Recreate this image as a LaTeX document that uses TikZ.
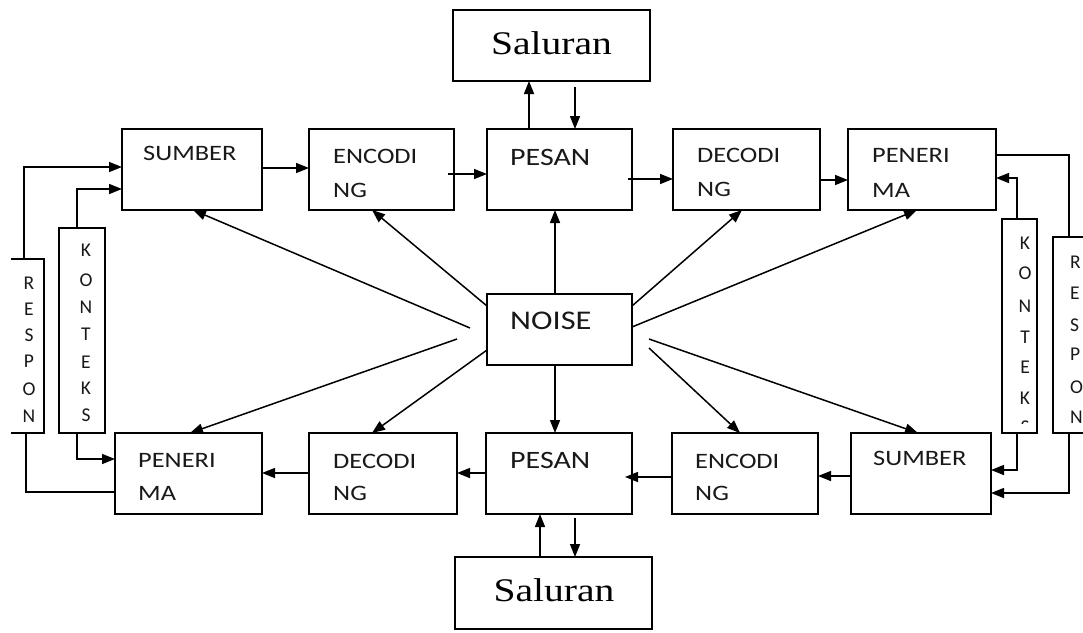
\documentclass[tikz,border=0pt]{standalone}
\usepackage{fontspec}
\usepackage{graphicx}
\setmainfont{Liberation Serif}
\newfontfamily\carl{Carlito}
\usetikzlibrary{arrows.meta}
\newcommand\hs[1]{\scalebox{1.2}[1]{#1}}
\begin{document}
\begin{tikzpicture}[x=1pt,y=-1pt,
 bx/.style={draw, line width=1.6pt, inner sep=0, outer sep=0},
 lbl/.style={anchor=west, inner sep=0, text=black!90, font=\carl\fontsize{22}{22}\selectfont},
 big/.style={lbl, font=\carl\fontsize{25}{25}\selectfont},
 vl/.style={inner sep=0, text=black!90, font=\carl\fontsize{19.5}{19}\selectfont},
 sal/.style={inner sep=0, font=\fontsize{33}{33}\selectfont},
 arr/.style={line width=1.5pt, -{Triangle[length=13pt,width=10pt]}},
 ln/.style={line width=1.5pt}]
\clip (0,0) rectangle (1083,632);
\fill[white] (0,0) rectangle (1083,632);

% boxes top row
\node[bx, minimum width=140pt, minimum height=81pt] (sumT) at (192,169.5) {};
\node[bx, minimum width=145pt, minimum height=81pt] (encT) at (381.5,169.5) {};
\node[bx, minimum width=145pt, minimum height=81pt] (pesT) at (559.5,169.5) {};
\node[bx, minimum width=147pt, minimum height=81pt] (decT) at (746.5,169.5) {};
\node[bx, minimum width=148pt, minimum height=81pt] (penT) at (922,169.5) {};
% boxes bottom row
\node[bx, minimum width=147pt, minimum height=81pt] (penB) at (188.5,473.5) {};
\node[bx, minimum width=148pt, minimum height=81pt] (decB) at (383,473.5) {};
\node[bx, minimum width=146pt, minimum height=81pt] (pesB) at (559,473.5) {};
\node[bx, minimum width=146pt, minimum height=81pt] (encB) at (745,473.5) {};
\node[bx, minimum width=140pt, minimum height=81pt] (sumB) at (921,473.5) {};
% noise, saluran
\node[bx, minimum width=145pt, minimum height=71pt] (noise) at (559.5,329.5) {};
\node[bx, minimum width=197pt, minimum height=71pt] (salT) at (551.5,45.5) {};
\node[bx, minimum width=197pt, minimum height=72pt] (salB) at (553.5,593) {};
% side boxes
\node[inner sep=0, outer sep=0, minimum width=33pt, minimum height=174pt] (respL) at (27.5,346) {};
\draw[line width=1.6pt] (respL.north west) -- (respL.north east) -- (respL.south east) -- (respL.south west);
\node[bx, minimum width=46pt, minimum height=205pt] (konL) at (82,330.5) {};
\node[bx, minimum width=35pt, minimum height=214pt] (konR) at (1019.5,326) {};
\node[bx, minimum width=47pt, minimum height=196pt] (respR) at (1076.5,335) {};

% texts
\node[sal] (tsalT) at (551.5,43) {\hs{Saluran}};
\node[sal] (tsalB) at (554,590) {\hs{Saluran}};
\node[lbl] (t1) at (143,153) {\hs{SUMBER}};
\node[lbl] (t2) at (333,156) {\hs{ENCODI}};
\node[lbl] (t3) at (333,190) {\hs{NG}};
\node[big] (t4) at (510,157) {\hs{PESAN}};
\node[lbl] (t5) at (697,155) {\hs{DECODI}};
\node[lbl] (t6) at (697,189) {\hs{NG}};
\node[lbl] (t7) at (872,155) {\hs{PENERI}};
\node[lbl] (t8) at (872,190) {\hs{MA}};
\node[big, font=\carl\fontsize{27}{27}\selectfont] (t9) at (510,321) {\hs{NOISE}};
\node[lbl] (t10) at (138,460) {\hs{PENERI}};
\node[lbl] (t11) at (138,493) {\hs{MA}};
\node[lbl] (t12) at (333,461) {\hs{DECODI}};
\node[lbl] (t13) at (333,493) {\hs{NG}};
\node[big] (t14) at (510,460) {\hs{PESAN}};
\node[lbl] (t15) at (695,461) {\hs{ENCODI}};
\node[lbl] (t16) at (695,493) {\hs{NG}};
\node[lbl] (t17) at (873,458) {\hs{SUMBER}};
% vertical letters
\foreach \l/\y [count=\i] in {R/283,E/309,S/335,P/361,O/389,N/416}
  \node[vl] (rl\i) at (29,\y) {\l};
\foreach \l/\y [count=\i] in {K/250,O/280,N/307,T/334,E/362,K/388,S/415}
  \node[vl] (kl\i) at (86,\y) {\l};
\foreach \l/\y [count=\i] in {K/243,O/273,N/306,T/337,E/367,K/398}
  \node[vl] (kr\i) at (1025,\y) {\l};
\begin{scope}
  \clip (1004,417) rectangle (1035,423);
  \node[vl] (kr7) at (1025,427) {S};
\end{scope}
\foreach \l/\y [count=\i] in {R/262,E/293,S/325,P/354,O/387,N/417}
  \node[vl, anchor=west] (rr\i) at (1070,\y) {\l};

% top row connectors
\coordinate (e1) at (448,174);
\coordinate (p1) at (628,179);
\draw[arr] (sumT.east |- 0,168) -- (encT.west |- 0,168);
\draw[arr] (e1) -- (pesT.west |- e1);
\draw[arr] (p1) -- (decT.west |- p1);
\draw[arr] (decT.east |- 0,180) -- (penT.west |- 0,180);
% bottom row connectors
\coordinate (p2) at (625,477);
\draw[arr] (sumB.west |- 0,476) -- (encB.east |- 0,476);
\draw[arr] (encB.west |- p2) -- (p2);
\draw[arr] (pesB.west |- 0,473) -- (decB.east |- 0,473);
\draw[arr] (decB.west |- 0,473) -- (penB.east |- 0,473);
% saluran connectors
\coordinate (s1) at (575,87);
\coordinate (s2) at (575,518);
\draw[arr] (529,0 |- pesT.north) -- (529,0 |- salT.south);
\draw[arr] (s1) -- (s1 |- pesT.north);
\draw[arr] (540,0 |- salB.north) -- (540,0 |- pesB.south);
\draw[arr] (s2) -- (s2 |- salB.north);
% noise connectors
\coordinate (n1) at (470,328);
\coordinate (n2) at (457,339);
\coordinate (n3) at (649,348);
\coordinate (n4) at (649,339);
\draw[arr] (555,0 |- noise.north) -- (555,0 |- pesT.south);
\draw[arr] (555,0 |- noise.south) -- (555,0 |- pesB.north);
\draw[arr] (n1) -- (193,0 |- sumT.south);
\draw[arr] (noise.west |- 0,306) -- (372,0 |- encT.south);
\draw[arr] (n2) -- (190,0 |- penB.north);
\draw[arr] (noise.west |- 0,350) -- (372,0 |- decB.north);
\draw[arr] (noise.east |- 0,306) -- (742,0 |- decT.south);
\draw[arr] (noise.east |- 0,327) -- (917,0 |- penT.south);
\draw[arr] (n3) -- (740,0 |- encB.north);
\draw[arr] (n4) -- (918,0 |- sumB.north);
% side connectors
\draw[arr] (24,0 |- respL.north) |- (sumT.west |- 0,167);
\draw[ln] (26,0 |- respL.south) |- (penB.west |- 0,492);
\draw[arr] (77,0 |- konL.north) |- (sumT.west |- 0,189);
\draw[arr] (77,0 |- konL.south) |- (penB.west |- 0,459);
\draw[arr] (1017,0 |- konR.north) |- (penT.east |- 0,178);
\draw[arr] (1017,0 |- konR.south) |- (sumB.east |- 0,470);
\draw[ln] (penT.east |- 0,155) -| (1069,0 |- respR.north);
\draw[arr] (1069,0 |- respR.south) |- (sumB.east |- 0,493);
\end{tikzpicture}
\end{document}
